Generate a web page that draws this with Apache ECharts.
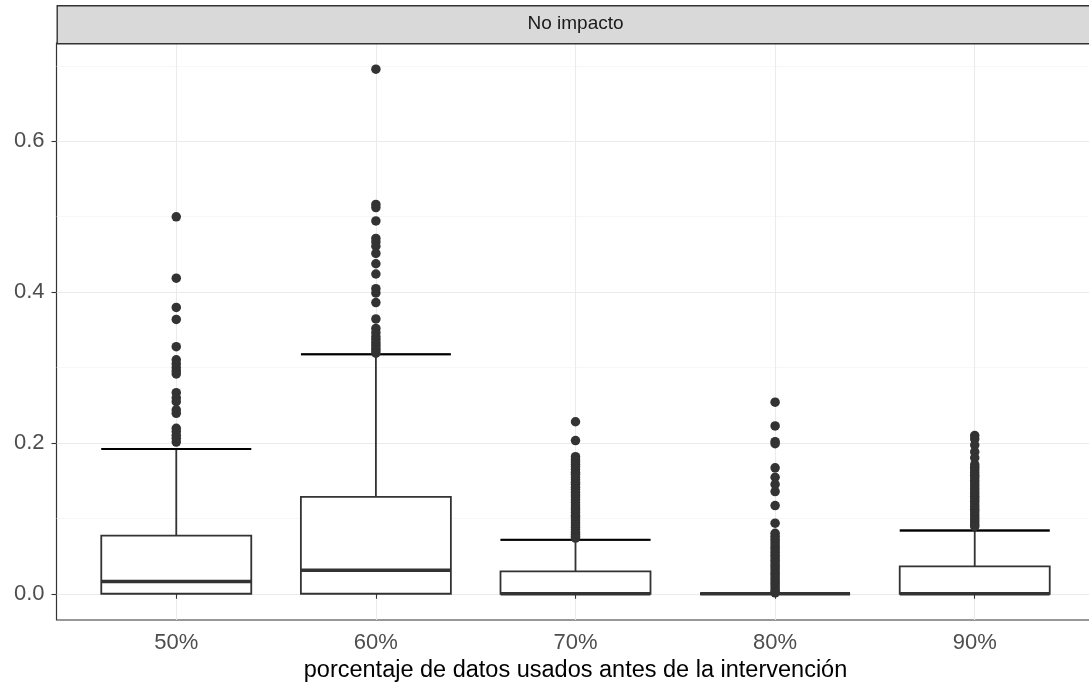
<!DOCTYPE html>
<html>
<head>
<meta charset="utf-8">
<script src="https://cdn.jsdelivr.net/npm/echarts@6/dist/echarts.min.js"></script>
<style>html,body{margin:0;padding:0;background:#fff;}#c{width:1089px;height:683px;}</style>
</head>
<body>
<div id="c"></div>
<script>
// ---- data ----
const categories = ['50%', '60%', '70%', '80%', '90%'];
const facetLabel = 'No impacto';
const xTitle = 'porcentaje de datos usados antes de la intervención';
const yTicks = [0, 0.2, 0.4, 0.6];
const yMinorTicks = [0.1, 0.3, 0.5, 0.7];
// [lower whisker, Q1, median, Q3, upper whisker]
const box50 = [0, 0, 0.0163, 0.0772, 0.192];
const box60 = [0, 0, 0.0313, 0.1284, 0.3175];
const box70 = [0, 0, 0, 0.0296, 0.0715];
const box80 = [0, 0, 0, 0, 0];
const box90 = [0, 0, 0, 0.0362, 0.0839];
// outliers
const out50 = [0.4998, 0.4185, 0.3797, 0.3638, 0.3276, 0.3102, 0.3049, 0.2998, 0.2953, 0.2915, 0.2667, 0.2598, 0.2547, 0.2437, 0.2392, 0.2194, 0.2151, 0.2102, 0.2061, 0.2012];
const out60 = [0.6955, 0.5162, 0.5121, 0.4944, 0.4712, 0.4663, 0.4608, 0.4512, 0.4376, 0.4240, 0.4045, 0.3988, 0.3861, 0.3644, 0.3518, 0.3462, 0.3410, 0.3372, 0.3331, 0.3296, 0.3257, 0.3221, 0.3189];
const out70 = [0.2281, 0.2032, 0.1818, 0.1779, 0.1752, 0.1718, 0.1683, 0.1647, 0.1612, 0.1584, 0.1548, 0.1513, 0.1479, 0.1452, 0.1413, 0.1381, 0.1347, 0.1311, 0.1282, 0.1248, 0.1209, 0.1177, 0.1142, 0.1113, 0.1078, 0.1041, 0.1012, 0.0978, 0.0942, 0.0912, 0.0879, 0.0848, 0.0816, 0.0788, 0.0761, 0.0738];
const out80 = [0.2540, 0.2225, 0.2017, 0.1990, 0.1670, 0.1545, 0.1450, 0.1355, 0.1170, 0.0936, 0.0802, 0.0762, 0.0724, 0.0688, 0.0651, 0.0617, 0.0583, 0.0549, 0.0512, 0.0478, 0.0443, 0.0409, 0.0374, 0.0342, 0.0306, 0.0271, 0.0238, 0.0204, 0.0169, 0.0137, 0.0102, 0.0068, 0.0035, 0.0012];
const out90 = [0.2097, 0.2051, 0.1972, 0.1881, 0.1803, 0.1712, 0.1677, 0.1644, 0.1608, 0.1571, 0.1539, 0.1502, 0.1468, 0.1433, 0.1397, 0.1362, 0.1331, 0.1294, 0.1261, 0.1226, 0.1189, 0.1157, 0.1121, 0.1088, 0.1052, 0.1018, 0.0982, 0.0951, 0.0917, 0.0892];

const boxes = [box50, box60, box70, box80, box90];
const outliers = [out50, out60, out70, out80, out90];

// ---- build series data ----
const boxData = boxes.map((b, i) => [i + 1].concat(b));
const medianData = boxes.map((b, i) => [i + 1, b[2]]);
const capData = boxes.map((b, i) => [i + 1, b[4]]);
const pointData = [];
outliers.forEach((arr, i) => arr.forEach(v => pointData.push([i + 1, v])));

const yMax = Math.max(...outliers.map(a => Math.max(...a)));
const yPad = yMax * 0.05;
const halfW = 0.375;

const FONT = '"Liberation Sans", Arial, sans-serif';
const PANEL_L = 56.5, PANEL_T = 43, PANEL_W = 1038, PANEL_H = 577;

function hLine(color, width) {
  return function (params, api) {
    const x = api.value(0), y = api.value(1);
    const p1 = api.coord([x - halfW, y]);
    const p2 = api.coord([x + halfW, y]);
    return { type: 'line', shape: { x1: p1[0], y1: p1[1], x2: p2[0], y2: p2[1] },
      style: { stroke: color, lineWidth: width } };
  };
}

const chart = echarts.init(document.getElementById('c'), null, { renderer: 'canvas' });
chart.setOption({
  animation: false,
  backgroundColor: '#ffffff',
  grid: { left: PANEL_L, top: PANEL_T, width: PANEL_W, height: PANEL_H, show: true,
    outerBoundsMode: 'none', containLabel: false,
    borderColor: '#333333', borderWidth: 1.2, backgroundColor: '#ffffff' },
  xAxis: {
    type: 'value', min: 0.4, max: 5.6,
    axisLine: { show: false },
    axisTick: { show: true, length: 5, lineStyle: { color: '#333333', width: 1.1 }, customValues: [1, 2, 3, 4, 5] },
    axisLabel: { customValues: [1, 2, 3, 4, 5], formatter: v => categories[Math.round(v) - 1],
      color: '#4D4D4D', fontSize: 22, fontFamily: FONT, margin: 12 },
    splitLine: { show: true, lineStyle: { color: '#EBEBEB', width: 1.1 } },
    name: xTitle, nameLocation: 'middle', nameGap: 39,
    nameTextStyle: { color: '#000000', fontSize: 23.5, fontFamily: FONT }
  },
  yAxis: [{
    type: 'value', min: -yPad, max: yMax + yPad,
    axisLine: { show: false },
    axisTick: { show: true, length: 5, lineStyle: { color: '#333333', width: 1.1 }, customValues: yTicks },
    axisLabel: { customValues: yTicks, formatter: v => v.toFixed(1), color: '#4D4D4D', fontSize: 22, fontFamily: FONT, margin: 12 },
    splitLine: { show: true, lineStyle: { color: '#EBEBEB', width: 1.1 } }
  }, {
    type: 'value', min: -yPad, max: yMax + yPad, position: 'left',
    axisLine: { show: false },
    axisTick: { show: false, customValues: yMinorTicks },
    axisLabel: { show: false, customValues: yMinorTicks },
    splitLine: { show: true, lineStyle: { color: '#F2F2F2', width: 0.6 } }
  }],
  graphic: [{
    type: 'rect', left: PANEL_L, top: 5, z: 100,
    shape: { x: 0, y: 0, width: PANEL_W, height: 38 },
    style: { fill: '#D9D9D9', stroke: '#333333', lineWidth: 1.4 }
  }, {
    type: 'text', x: PANEL_L + PANEL_W / 2, y: 24, z: 101,
    style: { text: facetLabel, fill: '#1A1A1A', fontSize: 19, fontFamily: FONT, align: 'center', verticalAlign: 'middle' }
  }],
  series: [{
    type: 'boxplot', data: boxData, boxWidth: [150, 150], z: 2,
    itemStyle: { color: '#ffffff', borderColor: '#333333', borderWidth: 1.8 },
    emphasis: { disabled: true }
  }, {
    type: 'custom', data: capData, renderItem: hLine('#000000', 2), z: 3, silent: true
  }, {
    type: 'custom', data: medianData, renderItem: hLine('#333333', 3.5), z: 4, silent: true
  }, {
    type: 'scatter', data: pointData, symbolSize: 9.5, z: 5,
    itemStyle: { color: '#333333', opacity: 1 }, emphasis: { disabled: true }
  }]
});
</script>
</body>
</html>
